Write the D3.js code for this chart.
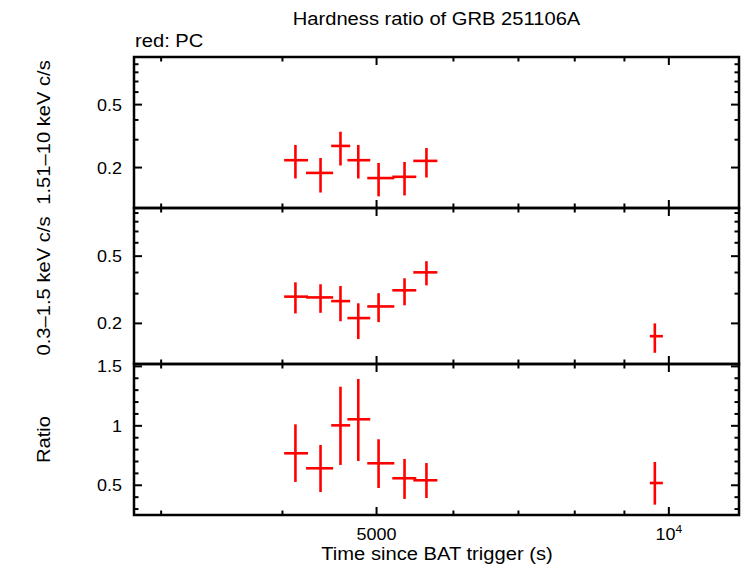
<!DOCTYPE html>
<html>
<head>
<meta charset="utf-8">
<script src="https://cdn.jsdelivr.net/npm/d3@7"></script>
<style>
  html, body { margin: 0; padding: 0; background: #fff; }
  svg { display: block; font-family: "Liberation Sans", Arial, sans-serif; }
</style>
</head>
<body>
<svg id="chart" width="742" height="566"></svg>
<script>
"use strict";

// /////// DATA

// Bin centres and edges, seconds since BAT trigger
const time = [4125, 4378, 4590, 4788, 5024, 5343, 5628, 9673];
const timeLo = [4016, 4230, 4490, 4666, 4891, 5190, 5455, 9559];
const timeHi = [4250, 4511, 4697, 4926, 5215, 5494, 5776, 9859];

// 1.51-10 keV count rate (last bin falls below the axis, not drawn)
const hard = [0.2226, 0.185, 0.274, 0.2226, 0.1716, 0.1748, 0.2204, null];
const hardLo = [0.1706, 0.139, 0.206, 0.1706, 0.1315, 0.1333, 0.173, null];
const hardHi = [0.278, 0.23, 0.337, 0.278, 0.214, 0.217, 0.266, null];

// 0.3-1.5 keV count rate
const soft = [0.288, 0.285, 0.271, 0.215, 0.252, 0.314, 0.401, 0.168];
const softLo = [0.229, 0.231, 0.206, 0.1616, 0.2035, 0.256, 0.336, 0.134];
const softHi = [0.35, 0.341, 0.333, 0.263, 0.302, 0.37, 0.467, 0.2];

// Hardness ratio
const ratio = [0.769, 0.643, 1.004, 1.055, 0.685, 0.559, 0.542, 0.519];
const ratioLo = [0.528, 0.443, 0.671, 0.704, 0.477, 0.385, 0.393, 0.337];
const ratioHi = [1.013, 0.839, 1.329, 1.394, 0.887, 0.721, 0.687, 0.696];

// Tick values
const xMajorTicks = [5000, 10000];
const xMinorTicks = [3000, 4000, 6000, 7000, 8000, 9000];
const logMajorTicks = [0.2, 0.5];
const logMinorTicks = [0.3, 0.4, 0.6, 0.7, 0.8, 0.9];
const ratioMajorTicks = [0.5, 1, 1.5];
const ratioMinorTicks = [0.3, 0.4, 0.6, 0.7, 0.8, 0.9, 1.1, 1.2, 1.3, 1.4];

// /////// LAYOUT

const STRETCH = 1.09; // gnuplot's font is a bit wider than Liberation Sans
const RED = "#ff0000";
const left = 134;
const right = 739;

const svg = d3.select("#chart");

const x = d3.scaleLog().domain([2813, 11810]).range([left, right]);

const panels = [
  {
    top: 57,
    bottom: 208,
    y: d3.scaleLog().domain([0.111, 1.0]),
    val: hard,
    lo: hardLo,
    hi: hardHi,
    major: logMajorTicks,
    minor: logMinorTicks,
    label: "1.51–10 keV c/s",
  },
  {
    top: 208,
    bottom: 364,
    y: d3.scaleLog().domain([0.115, 0.964]),
    val: soft,
    lo: softLo,
    hi: softHi,
    major: logMajorTicks,
    minor: logMinorTicks,
    label: "0.3–1.5 keV c/s",
  },
  {
    top: 364,
    bottom: 515,
    y: d3.scaleLinear().domain([0.25, 1.52]),
    val: ratio,
    lo: ratioLo,
    hi: ratioHi,
    major: ratioMajorTicks,
    minor: ratioMinorTicks,
    label: "Ratio",
  },
];
panels.forEach((p) => p.y.range([p.bottom, p.top]));

// /////// FUNCTIONS

// Text inside a group so it can be widened a little and rotated
function addText(parent, str, tx, ty, opts = {}) {
  const { size = 18.5, anchor = "middle", rotate = 0 } = opts;
  const g = parent
    .append("g")
    .attr(
      "transform",
      `translate(${tx},${ty}) rotate(${rotate}) scale(${STRETCH},1)`
    );
  return g
    .append("text")
    .attr("text-anchor", anchor)
    .attr("font-size", size)
    .attr("fill", "#000")
    .text(str);
}

function tickLine(parent, x1, y1, x2, y2) {
  parent
    .append("line")
    .attr("x1", x1)
    .attr("y1", y1)
    .attr("x2", x2)
    .attr("y2", y2)
    .attr("stroke", "#000")
    .attr("stroke-width", 2);
}

function drawPanel(p, i) {
  const g = svg.append("g").attr("class", `panel-${i}`);

  // Clip so points outside the axis range are dropped
  svg
    .append("clipPath")
    .attr("id", `clip-${i}`)
    .append("rect")
    .attr("x", left)
    .attr("y", p.top)
    .attr("width", right - left)
    .attr("height", p.bottom - p.top);

  // Ticks on all four sides, pointing inward
  const ticks = g.append("g");
  xMajorTicks.forEach((v) => {
    tickLine(ticks, x(v), p.bottom, x(v), p.bottom - 8);
    tickLine(ticks, x(v), p.top, x(v), p.top + 8);
  });
  xMinorTicks.forEach((v) => {
    tickLine(ticks, x(v), p.bottom, x(v), p.bottom - 4.5);
    tickLine(ticks, x(v), p.top, x(v), p.top + 4.5);
  });
  p.major.forEach((v) => {
    tickLine(ticks, left, p.y(v), left + 8, p.y(v));
    tickLine(ticks, right, p.y(v), right - 8, p.y(v));
  });
  p.minor.forEach((v) => {
    tickLine(ticks, left, p.y(v), left + 4.5, p.y(v));
    tickLine(ticks, right, p.y(v), right - 4.5, p.y(v));
  });

  // Y tick labels
  p.major.forEach((v) => {
    addText(g, String(v), 122, p.y(v) + 6, { size: 16.5, anchor: "end" });
  });

  // Error bars
  const idx = d3.range(time.length).filter((j) => p.val[j] != null);
  const pts = g
    .append("g")
    .attr("clip-path", `url(#clip-${i})`)
    .selectAll("g")
    .data(idx)
    .join("g");

  pts
    .append("line")
    .attr("x1", (j) => x(time[j]))
    .attr("x2", (j) => x(time[j]))
    .attr("y1", (j) => p.y(p.lo[j]))
    .attr("y2", (j) => p.y(p.hi[j]))
    .attr("stroke", RED)
    .attr("stroke-width", 2.6);

  pts
    .append("line")
    .attr("x1", (j) => x(timeLo[j]))
    .attr("x2", (j) => x(timeHi[j]))
    .attr("y1", (j) => p.y(p.val[j]))
    .attr("y2", (j) => p.y(p.val[j]))
    .attr("stroke", RED)
    .attr("stroke-width", 2.6);

  // Frame
  g.append("rect")
    .attr("x", left)
    .attr("y", p.top)
    .attr("width", right - left)
    .attr("height", p.bottom - p.top)
    .attr("fill", "none")
    .attr("stroke", "#000")
    .attr("stroke-width", 2.5);

  // Rotated axis label
  addText(g, p.label, 49.5, (p.top + p.bottom) / 2, { rotate: -90 });
}

// /////// DRAW

panels.forEach(drawPanel);

// X tick labels under the bottom panel
const axisY = panels[2].bottom + 25;
addText(svg, "5000", x(5000), axisY, { size: 16.5 });
const tenK = addText(svg, "10", x(10000), axisY, { size: 16.5 });
tenK.append("tspan").attr("font-size", 11).attr("dy", -7).text("4");

// Titles
addText(svg, "Hardness ratio of GRB 251106A", 436.5, 25);
addText(svg, "red: PC", 135, 47.3, { anchor: "start" });
addText(svg, "Time since BAT trigger (s)", 437, 560);
</script>
</body>
</html>
